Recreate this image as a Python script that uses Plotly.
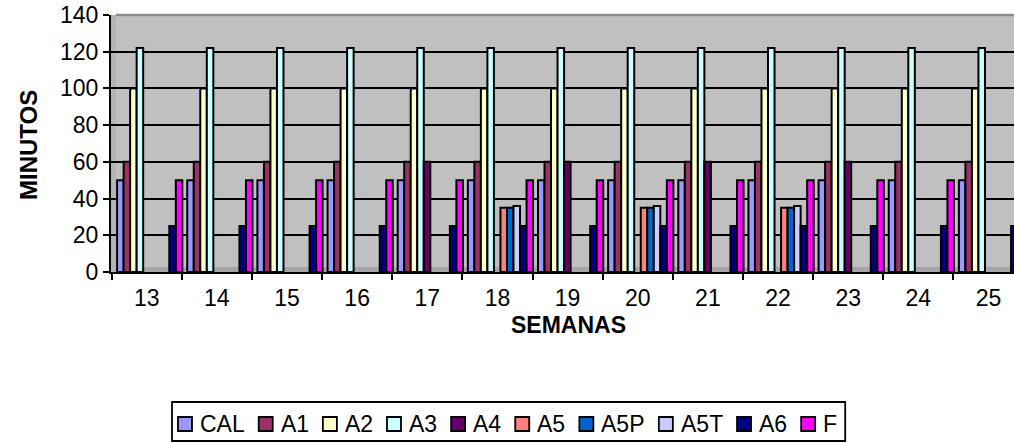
import plotly.graph_objects as go

# ---------------- data ----------------
semanas = ["13", "14", "15", "16", "17", "18", "19", "20", "21", "22", "23", "24", "25"]
series_names = ["CAL", "A1", "A2", "A3", "A4", "A5", "A5P", "A5T", "A6", "F"]
CAL = [50, 50, 50, 50, 50, 50, 50, 50, 50, 50, 50, 50, 50]
A1 = [60, 60, 60, 60, 60, 60, 60, 60, 60, 60, 60, 60, 60]
A2 = [100, 100, 100, 100, 100, 100, 100, 100, 100, 100, 100, 100, 100]
A3 = [122, 122, 122, 122, 122, 122, 122, 122, 122, 122, 122, 122, 122]
A4 = [None, None, None, None, 60, None, 60, None, 60, None, 60, None, None]
A5 = [None, None, None, None, None, 35, None, 35, None, 35, None, None, None]
A5P = [None, None, None, None, None, 35, None, 35, None, 35, None, None, None]
A5T = [None, None, None, None, None, 36, None, 36, None, 36, None, None, None]
A6 = [25, 25, 25, 25, 25, 25, 25, 25, 25, 25, 25, 25, 25]
F = [50, 50, 50, 50, 50, 50, 50, 50, 50, 50, 50, 50, 50]
y_ticks = [0, 20, 40, 60, 80, 100, 120, 140]

values = [CAL, A1, A2, A3, A4, A5, A5P, A5T, A6, F]
colors = ["#9999FF", "#993366", "#FFFFCC", "#CCFFFF", "#660066",
          "#FF8080", "#0066CC", "#CCCCFF", "#000080", "#FF00FF"]

# ---------------- layout geometry (pixels) ----------------
WIDTH, HEIGHT = 1014, 442
L, R, T, B = 111, 0, 15, 170
PW = WIDTH - L - R
PH = HEIGHT - T - B
CAT_W = 70.15
r0 = -0.509
r1 = r0 + PW / CAT_W
DEPTH_SHIFT = 3.0  # bars sit on the back wall, a few px right of the front axis
rb0 = r0 - DEPTH_SHIFT / CAT_W
rb1 = r1 - DEPTH_SHIFT / CAT_W


def px(xp):
    return (xp - L) / PW


def py(yp):
    return (HEIGHT - B - yp) / PH


FONT = "Liberation Sans, Arial, sans-serif"

fig = go.Figure()
# invisible carrier trace so the front (labelled) category axis is populated
fig.add_trace(go.Scatter(x=semanas, y=CAL, mode="none", xaxis="x", yaxis="y",
                         showlegend=False, hoverinfo="skip"))
for name, vals, col in zip(series_names, values, colors):
    fig.add_trace(go.Bar(
        x=semanas, y=vals, name=name, xaxis="x2", yaxis="y",
        marker=dict(color=col, line=dict(color="black", width=2)),
        showlegend=False,
    ))

shapes = []
# floor band and wall edges (decorative, like the Excel 3D wall)
shapes.append(dict(type="rect", xref="paper", yref="paper",
                   x0=0, x1=1, y0=py(272), y1=py(267),
                   fillcolor="#A6A6A6", line=dict(width=0), layer="below"))
shapes.append(dict(type="rect", xref="paper", yref="paper",
                   x0=0, x1=px(116), y0=0, y1=1,
                   fillcolor="#B4B4B4", line=dict(width=0), layer="below"))
shapes.append(dict(type="line", xref="paper", yref="paper",
                   x0=px(116), x1=1, y0=1, y1=1,
                   line=dict(color="#8C8C8C", width=2.5), layer="above"))

# ---------------- custom legend ----------------
metrics = {"C": 0.722, "A": 0.667, "L": 0.556, "P": 0.667, "T": 0.611, "F": 0.611}
LEG_FS = 23


def text_w(s):
    return sum(metrics.get(c, 0.556) for c in s) * LEG_FS


annotations = []
x_cursor = 178
sq = 14
leg_y = 424
for name, col in zip(series_names, colors):
    shapes.append(dict(type="rect", xref="paper", yref="paper",
                       x0=px(x_cursor), x1=px(x_cursor + sq),
                       y0=py(leg_y + sq / 2), y1=py(leg_y - sq / 2),
                       fillcolor=col, line=dict(color="black", width=1.8)))
    annotations.append(dict(text=name, xref="paper", yref="paper",
                            x=px(x_cursor + sq + 6), y=py(leg_y),
                            xanchor="left", yanchor="middle", showarrow=False,
                            font=dict(family=FONT, size=LEG_FS, color="black")))
    x_cursor += sq + 8 + text_w(name) + 14
leg_right = x_cursor - 6
shapes.append(dict(type="rect", xref="paper", yref="paper",
                   x0=px(172), x1=px(leg_right), y0=py(441), y1=py(402),
                   fillcolor="rgba(0,0,0,0)", line=dict(color="black", width=1.8)))

# axis titles
annotations.append(dict(text="<b>SEMANAS</b>", xref="paper", yref="paper",
                        x=px(568), y=py(325), xanchor="center", yanchor="middle",
                        showarrow=False,
                        font=dict(family=FONT, size=23, color="black")))
annotations.append(dict(text="<b>MINUTOS</b>", xref="paper", yref="paper",
                        x=px(28), y=py(145), xanchor="center", yanchor="middle",
                        showarrow=False, textangle=-90,
                        font=dict(family=FONT, size=24, color="black")))

fig.update_layout(
    width=WIDTH, height=HEIGHT,
    margin=dict(l=L, r=R, t=T, b=B, autoexpand=False),
    paper_bgcolor="white", plot_bgcolor="#C0C0C0",
    barmode="group", bargap=0.07, bargroupgap=0,
    shapes=shapes, annotations=annotations,
    font=dict(family=FONT, color="black"),
    showlegend=False,
    xaxis=dict(
        type="category", range=[r0, r1],
        categoryorder="array", categoryarray=semanas,
        showline=True, linecolor="black", linewidth=2,
        ticks="outside", ticklen=6, tickwidth=1.5, tickcolor="black",
        tickson="boundaries", ticklabelstandoff=4,
        tickfont=dict(family=FONT, size=23, color="black"),
        showgrid=False, zeroline=False,
    ),
    xaxis2=dict(
        type="category", range=[rb0, rb1],
        categoryorder="array", categoryarray=semanas,
        overlaying="x", anchor="y", side="bottom", visible=False,
        showgrid=False, zeroline=False,
    ),
    yaxis=dict(
        range=[0, 140], tickvals=y_ticks,
        showline=True, linecolor="black", linewidth=2,
        ticks="outside", ticklen=6, tickwidth=1.5, tickcolor="black",
        tickfont=dict(family=FONT, size=23, color="black"),
        showgrid=True, gridcolor="black", gridwidth=2,
        zeroline=False,
    ),
)

fig.write_html(
    "out.html",
    config={"displayModeBar": False},
    post_script="document.body.style.margin='0';document.body.style.padding='0';"
                "document.body.style.overflow='hidden';",
)
